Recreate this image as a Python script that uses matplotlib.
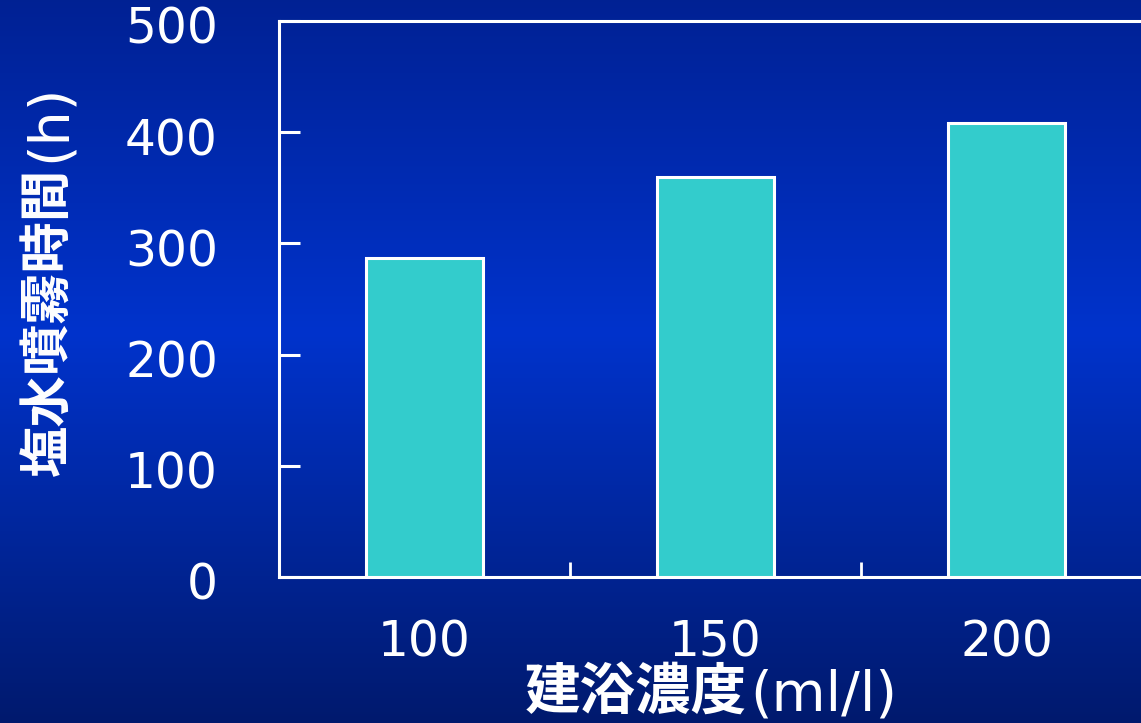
import numpy as np
import matplotlib
matplotlib.use('Agg')
import matplotlib.pyplot as plt
from matplotlib.colors import LinearSegmentedColormap
from matplotlib.transforms import ScaledTranslation

concentrations = ['100', '150', '200']
spray_hours = [287, 360, 408]
y_ticks = [0, 100, 200, 300, 400, 500]

W, H = 1141, 723
fig = plt.figure(figsize=(W / 100, H / 100), dpi=100)

# gradient background
bg = fig.add_axes([0, 0, 1, 1], zorder=-10)
cmap = LinearSegmentedColormap.from_list(
    'bg', [(0.0, (0.0, 0.13, 0.58)), (0.46, (0.0, 0.2, 0.8)), (1.0, (0.0, 0.1, 0.43))])
bg.imshow(np.linspace(0, 1, 256).reshape(-1, 1), aspect='auto', cmap=cmap,
          extent=[0, 1, 0, 1], origin='upper')
bg.axis('off')

ax = fig.add_axes([279 / W, 1 - 577 / H, 873 / W, 556 / H])
ax.set_facecolor('none')
x = np.arange(len(concentrations))
ax.bar(x, spray_hours, width=0.405, color='#33CCCC', edgecolor='white', linewidth=2.2, zorder=3)

ax.set_xlim(-0.5, 2.5)
ax.set_ylim(0, 500)
ax.set_yticks(y_ticks)
ax.set_yticklabels([str(v) for v in y_ticks])
ax.set_xticks(x)
ax.set_xticklabels(concentrations)
ax.set_xticks([0.5, 1.5], minor=True)

for s in ax.spines.values():
    s.set_color('white')
    s.set_linewidth(2.2)
ax.tick_params(axis='y', direction='in', length=15, width=2.2, color='white',
               labelcolor='white', labelsize=35, pad=44)
ax.tick_params(axis='x', which='major', length=0, labelcolor='white', labelsize=35, pad=30)
ax.tick_params(axis='x', which='minor', direction='in', length=11, width=2, color='white')
shift = ScaledTranslation(0, -4 / 100, fig.dpi_scale_trans)
for lab in ax.get_yticklabels():
    lab.set_transform(lab.get_transform() + shift)
for lab in ax.get_xticklabels() + ax.get_yticklabels():
    lab.set_family('DejaVu Sans')

cjk = ['Noto Sans CJK JP', 'DejaVu Sans']
fig.canvas.draw()
r = fig.canvas.get_renderer()

# x label: bold CJK + regular unit, group centred under the axis
t1 = fig.text(0, 1 - 694 / H, '建浴濃度', color='white', fontsize=40,
              fontweight='bold', family=cjk, ha='left', va='center')
t1b = fig.text(0, 1 - 696 / H, '(ml/l)', color='white', fontsize=40,
               family='DejaVu Sans', ha='left', va='center')
w1 = t1.get_window_extent(r).width
w2 = t1b.get_window_extent(r).width
x0 = 711 - (w1 + w2 + 4) / 2
t1.set_x(x0 / W)
t1b.set_x((x0 + w1 + 4) / W)

# y label: bold CJK + regular unit, rotated
t2 = fig.text(48 / W, 1 - 476 / H, '塩水噴霧時間', color='white', fontsize=37,
              fontweight='bold', family=cjk, rotation=90, ha='center', va='bottom')
bb = t2.get_window_extent(r)
fig.text(50 / W, bb.y1 / H + 0.008, '(h)', color='white', fontsize=40,
         family='DejaVu Sans', rotation=90, ha='center', va='bottom')

fig.savefig('out.png', dpi=100)
